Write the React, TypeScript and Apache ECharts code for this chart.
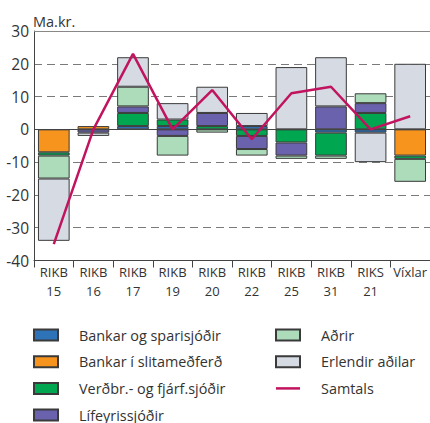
import React, { useEffect, useRef } from 'react';
import * as echarts from 'echarts';

const categories = ['RIKB\n15', 'RIKB\n16', 'RIKB\n17', 'RIKB\n19', 'RIKB\n20', 'RIKB\n22', 'RIKB\n25', 'RIKB\n31', 'RIKS\n21', 'Víxlar'];
const bankar = [0, 0, 1, 1, 0, 1, 0, -1, -1, 0];
const slitamedferd = [-7, 1, 0, 0, 0, 0, 0, 0, 0, -8];
const verdbref = [-1, 0, 4, 2, 1, -2, -4, -7, 5, -1];
const lifeyris = [0, -1, 2, -2, 4, -4, -4, 7, 3, 0];
const adrir = [-7, 0, 6, -6, -1, -2, -1, -1, 3, -7];
const erlendir = [-19, -1, 9, 5, 8, 4, 19, 15, -9, 20];
const samtals = [-35, 0, 23, 0, 12, -3, 11, 13, 0, 4];

export default function App() {
  const ref = useRef<HTMLDivElement>(null);
  useEffect(() => {
    const chart = echarts.init(ref.current!, null, { renderer: 'svg' });
    const font = 'Open Sans';
    const bar = (name: string, data: number[], color: string) => ({
      name,
      type: 'bar',
      stack: 'total',
      data: data.map((v) => (v === 0 ? '-' : v)),
      barWidth: '80%',
      itemStyle: { color, borderColor: '#3a3a3a', borderWidth: 1 },
    });
    const legendText = {
      fontFamily: font,
      fontSize: 14.4,
      color: '#333',
      lineHeight: 18,
      padding: [0, 0, 0, 16],
    };
    const legendBase = {
      orient: 'vertical',
      padding: 0,
      itemWidth: 24,
      itemHeight: 11,
      itemGap: 8.7,
      textStyle: legendText,
    };
    chart.setOption({
      animation: false,
      title: {
        text: 'Ma.kr.',
        left: 33,
        top: 14,
        padding: 0,
        textStyle: { fontFamily: font, fontSize: 14.5, fontWeight: 'normal', color: '#333' },
      },
      grid: { left: 34, right: 0, top: 31, bottom: 162.5 },
      legend: [
        {
          ...legendBase,
          data: ['Bankar og sparisjóðir', 'Bankar í slitameðferð', 'Verðbr.- og fjárf.sjóðir'],
          left: 33,
          top: 326,
          icon: 'rect',
        },
        {
          ...legendBase,
          data: ['Lífeyrissjóðir'],
          left: 33,
          top: 406,
          icon: 'rect',
        },
        {
          ...legendBase,
          data: [
            { name: 'Aðrir', icon: 'rect' },
            { name: 'Erlendir aðilar', icon: 'rect' },
            { name: 'Samtals', icon: 'path://M0,0L48,0L48,5L0,5Z', itemStyle: { color: '#c2135f', borderWidth: 0 } },
          ],
          left: 275,
          top: 326,
        },
      ],
      xAxis: {
        type: 'category',
        data: categories,
        axisLine: { onZero: false, lineStyle: { color: '#444', width: 1 } },
        axisTick: { show: true, length: 7, lineStyle: { color: '#444' } },
        axisLabel: {
          interval: 0,
          margin: 2,
          fontFamily: font,
          fontSize: 13,
          lineHeight: 19,
          color: '#333',
        },
      },
      yAxis: {
        type: 'value',
        min: -40,
        max: 30,
        interval: 10,
        axisLine: { show: true, lineStyle: { color: '#444', width: 1 } },
        axisTick: { show: false },
        axisLabel: { margin: 5, fontFamily: font, fontSize: 15.5, color: '#333' },
        splitLine: {
          show: true,
          showMinLine: false,
          showMaxLine: false,
          lineStyle: { color: '#7a7a7a', type: [8, 5], width: 1 },
        },
      },
      series: [
        {
          ...bar('Bankar og sparisjóðir', bankar, '#2e72b8'),
          markLine: {
            silent: true,
            symbol: 'none',
            label: { show: false },
            data: [
              { yAxis: 0, lineStyle: { color: '#444', type: 'solid', width: 1 } },
              { yAxis: 30, lineStyle: { color: '#888', type: 'solid', width: 1 } },
            ],
          },
        },
        bar('Bankar í slitameðferð', slitamedferd, '#f7941d'),
        bar('Verðbr.- og fjárf.sjóðir', verdbref, '#00a650'),
        bar('Lífeyrissjóðir', lifeyris, '#6a62ad'),
        bar('Aðrir', adrir, '#acdcba'),
        bar('Erlendir aðilar', erlendir, '#d5dae3'),
        {
          name: 'Samtals',
          type: 'line',
          data: samtals,
          symbol: 'none',
          z: 5,
          itemStyle: { color: '#c2135f' },
          lineStyle: { color: '#c2135f', width: 2.5 },
        },
      ],
    });
    return () => chart.dispose();
  }, []);
  return <div ref={ref} style={{ position: 'absolute', left: 0, top: 0, width: 430, height: 423 }} />;
}
